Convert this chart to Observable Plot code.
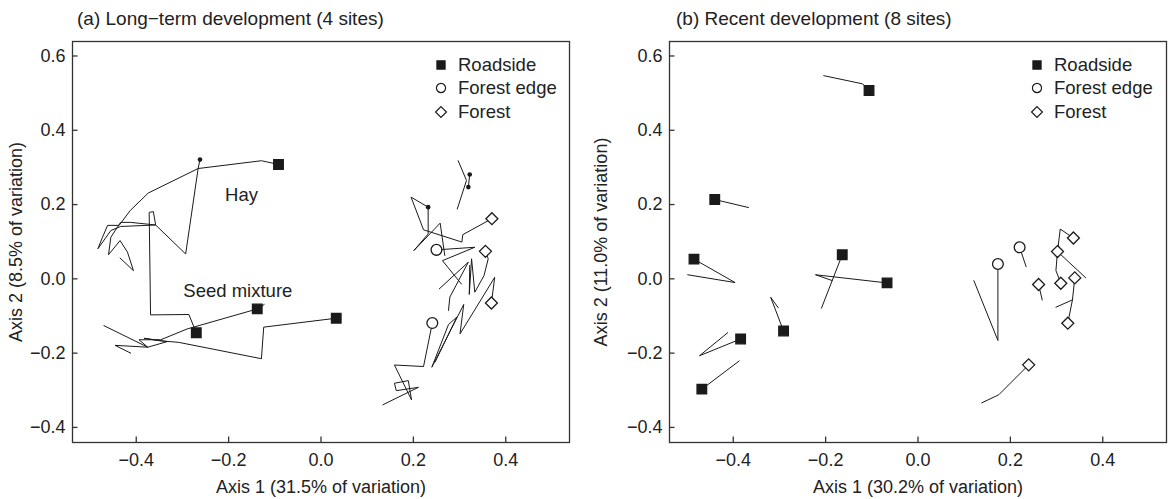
<!DOCTYPE html>
<html><head><meta charset="utf-8">
<script src="https://cdn.jsdelivr.net/npm/d3@7"></script>
<script src="https://cdn.jsdelivr.net/npm/@observablehq/plot@0.6"></script>
<style>
body{margin:0;background:#fff;font-family:"Liberation Sans",Arial,sans-serif;color:#222}
#wrap{position:relative;width:1170px;height:499px;overflow:hidden}
.panel{position:absolute;top:0;width:585px;height:499px}
.panel svg{display:block}
.title{position:absolute;top:8px;font-size:19px;white-space:nowrap;color:#222}
.legend{position:absolute;font-size:18.5px;color:#222}
.legend .row{position:absolute;left:0;height:24px;line-height:24px;white-space:nowrap}
.legend .row svg{position:absolute;left:-7px;top:5px}
.legend .row span{position:absolute;left:17px;top:0}
</style></head><body><div id="wrap"></div><script>
// ---- data ----
const types = ["Roadside", "Forest edge", "Forest"];
const xTicks = [-0.4, -0.2, 0.0, 0.2, 0.4];
const yTicks = [-0.4, -0.2, 0.0, 0.2, 0.4, 0.6];

// Panel (a): trajectories
const a_hay = [[-0.092,0.308],[-0.129,0.318],[-0.266,0.297],[-0.374,0.231],[-0.413,0.184],[-0.437,0.144],[-0.462,0.144],[-0.473,0.112],[-0.483,0.081],[-0.455,0.130],[-0.434,0.141],[-0.358,0.145],[-0.412,0.152],[-0.434,0.152],[-0.455,0.112],[-0.460,0.065],[-0.435,0.103],[-0.419,0.072],[-0.406,0.022],[-0.435,0.056]];
const a_seed = [[-0.270,-0.145],[-0.275,-0.130],[-0.286,-0.096],[-0.369,-0.097],[-0.372,0.179],[-0.363,0.181],[-0.358,0.145],[-0.293,0.067],[-0.266,0.297],[-0.262,0.321]];
const a_road3 = [[-0.123,-0.069],[-0.138,-0.081],[-0.290,-0.135],[-0.347,-0.164],[-0.394,-0.164],[-0.375,-0.184],[-0.470,-0.126]];
const a_road4 = [[0.033,-0.106],[-0.124,-0.130],[-0.129,-0.215],[-0.308,-0.171],[-0.354,-0.166],[-0.383,-0.160],[-0.333,-0.169],[-0.375,-0.184],[-0.446,-0.179],[-0.412,-0.200]];
const a_r1 = [[0.295,0.188],[0.315,0.265],[0.297,0.318]];
const a_r1b = [[0.322,0.281],[0.319,0.247]];
const a_r2 = [[0.370,0.162],[0.307,0.119],[0.305,0.099],[0.222,0.132],[0.195,0.220],[0.232,0.193],[0.232,0.121],[0.201,0.076],[0.258,0.150],[0.268,0.063]];
const a_r3 = [[0.250,0.078],[0.333,0.085],[0.263,0.049],[0.304,-0.014]];
const a_r3b = [[0.256,-0.027],[0.319,0.045],[0.279,-0.049],[0.276,-0.085]];
const a_r4 = [[0.356,0.074],[0.362,0.054],[0.353,0.009],[0.333,-0.036],[0.326,0.054],[0.321,-0.042],[0.322,0.036]];
const a_r5 = [[0.369,-0.065],[0.376,0.004],[0.301,-0.148],[0.309,-0.069],[0.240,-0.238],[0.276,-0.123],[0.294,-0.103],[0.247,-0.224]];
const a_r6 = [[0.241,-0.119],[0.222,-0.236],[0.159,-0.232],[0.196,-0.326],[0.189,-0.274],[0.159,-0.281],[0.163,-0.301],[0.211,-0.292],[0.134,-0.339]];
const a_ends = [[-0.262,0.321],[0.319,0.247],[0.322,0.281],[0.232,0.193]];
const a_roadside = [[-0.092,0.308],[-0.270,-0.145],[-0.138,-0.081],[0.033,-0.106]];
const a_edge = [[0.250,0.078],[0.241,-0.119]];
const a_forest = [[0.370,0.162],[0.356,0.074],[0.369,-0.065]];
const a_notes = [{text:"Hay", x:-0.172, y:0.226}, {text:"Seed mixture", x:-0.180, y:-0.034}];

// Panel (b): trajectories
const b_paths = [
  [[-0.106,0.507],[-0.120,0.525],[-0.204,0.547]],
  [[-0.440,0.2135],[-0.367,0.192]],
  [[-0.485,0.053],[-0.396,-0.010],[-0.4985,0.011]],
  [[-0.164,0.065],[-0.209,-0.079]],
  [[-0.067,-0.011],[-0.222,0.011],[-0.186,-0.0045]],
  [[-0.291,-0.1405],[-0.319,-0.0495],[-0.3025,-0.078]],
  [[-0.384,-0.162],[-0.473,-0.207],[-0.412,-0.145]],
  [[-0.468,-0.297],[-0.387,-0.221]],
  [[0.173,0.040],[0.173,-0.166],[0.121,-0.005]],
  [[0.220,0.085],[0.234,0.033]],
  [[0.261,-0.015],[0.269,-0.057]],
  [[0.3365,0.110],[0.308,0.134],[0.302,0.0735],[0.363,0.003]],
  [[0.302,0.0735],[0.2986,0.0223],[0.3092,-0.0118]],
  [[0.3394,0.0026],[0.3344,-0.0566],[0.2986,-0.0764]],
  [[0.3344,-0.0566],[0.3243,-0.1194]],
  [[0.2396,-0.2316],[0.175,-0.312],[0.138,-0.334]]
];
const b_roadside = [[-0.106,0.507],[-0.440,0.2135],[-0.485,0.053],[-0.164,0.065],[-0.067,-0.011],[-0.291,-0.1405],[-0.384,-0.162],[-0.468,-0.297]];
const b_edge = [[0.173,0.040],[0.220,0.085]];
const b_forest = [[0.3365,0.110],[0.302,0.0735],[0.3092,-0.0118],[0.3394,0.0026],[0.2611,-0.0153],[0.3243,-0.1194],[0.2396,-0.2316]];

// ---- build ----
const toRows = (paths) => paths.flatMap((p, i) => p.map(([x, y]) => ({id: i, x, y})));
const toSites = (road, edge, forest) => [
  ...road.map(([x, y]) => ({type: "Roadside", x, y})),
  ...edge.map(([x, y]) => ({type: "Forest edge", x, y})),
  ...forest.map(([x, y]) => ({type: "Forest", x, y}))
];
const fmt = d3.format(".1f");
const ink = "#1a1a1a";

function panel({paths, sites, ends, notes, xLabel, yLabel, mLeft, mRight, yLabelOffset}) {
  return Plot.plot({
    width: 585, height: 499,
    marginLeft: mLeft, marginRight: mRight, marginTop: 41, marginBottom: 57,
    x: {domain: [-0.538, 0.538]},
    y: {domain: [-0.4406, 0.639]},
    symbol: {domain: types, range: ["square", "circle", "diamond2"]},
    style: {fontFamily: "'Liberation Sans', Arial, sans-serif", fontSize: "18px", color: "#222", background: "white", overflow: "visible"},
    marks: [
      Plot.frame({stroke: "#333", strokeWidth: 1.3}),
      Plot.axisX(xTicks, {tickSize: -5.5, tickPadding: 16.5, tickFormat: fmt, stroke: "#333", strokeWidth: 1.3,
        label: xLabel, labelAnchor: "center", labelOffset: 50, labelArrow: "none"}),
      Plot.axisY(yTicks, {tickSize: -5.5, tickPadding: 12.5, tickFormat: fmt, stroke: "#333", strokeWidth: 1.3,
        label: yLabel, labelAnchor: "center", labelOffset: yLabelOffset, labelArrow: "none"}),
      Plot.line(toRows(paths), {x: "x", y: "y", z: "id", stroke: ink, strokeWidth: 1, curve: "linear"}),
      Plot.dot(ends.map(([x, y]) => ({x, y})), {x: "x", y: "y", r: 2.3, fill: ink}),
      Plot.dot(sites, {x: "x", y: "y", symbol: "type", r: 5.4,
        fill: d => d.type === "Roadside" ? ink : "white", stroke: ink, strokeWidth: 1.3}),
      Plot.text(notes, {x: "x", y: "y", text: "text", fontSize: 18.5, fill: "#222"})
    ]
  });
}

function legend(left) {
  const div = document.createElement("div");
  div.className = "legend";
  div.style.left = left + "px";
  div.style.top = "52.5px";
  const shapes = [d3.symbolSquare, d3.symbolCircle, d3.symbolDiamond2];
  types.forEach((t, i) => {
    const row = document.createElement("div");
    row.className = "row";
    row.style.top = (i * 23.7) + "px";
    const path = d3.symbol(shapes[i], i === 2 ? 75 : 66)();
    row.innerHTML = `<svg width="14" height="14" viewBox="-7 -7 14 14"><path d="${path}" fill="${i === 0 ? ink : "white"}" stroke="${ink}" stroke-width="1.2"/></svg><span>${t}</span>`;
    div.appendChild(row);
  });
  return div;
}

const wrap = document.getElementById("wrap");
const specs = [
  {left: 0, title: "(a) Long\u2212term development (4 sites)", titleLeft: 77, legendLeft: 441,
    paths: [a_hay, a_seed, a_road3, a_road4, a_r1, a_r1b, a_r2, a_r3, a_r3b, a_r4, a_r5, a_r6],
    sites: toSites(a_roadside, a_edge, a_forest), ends: a_ends, notes: a_notes,
    xLabel: "Axis 1 (31.5% of variation)", yLabel: "Axis 2 (8.5% of variation)", mLeft: 72, mRight: 16, yLabelOffset: 63},
  {left: 585, title: "(b) Recent development (8 sites)", titleLeft: 91, legendLeft: 452,
    paths: b_paths, sites: toSites(b_roadside, b_edge, b_forest), ends: [], notes: [],
    xLabel: "Axis 1 (30.2% of variation)", yLabel: "Axis 2 (11.0% of variation)", mLeft: 84, mRight: 4, yLabelOffset: 75}
];
for (const s of specs) {
  const p = document.createElement("div");
  p.className = "panel";
  p.style.left = s.left + "px";
  p.appendChild(panel(s));
  const t = document.createElement("div");
  t.className = "title";
  t.style.left = s.titleLeft + "px";
  t.textContent = s.title;
  p.appendChild(t);
  p.appendChild(legend(s.legendLeft));
  wrap.appendChild(p);
}
</script></body></html>
